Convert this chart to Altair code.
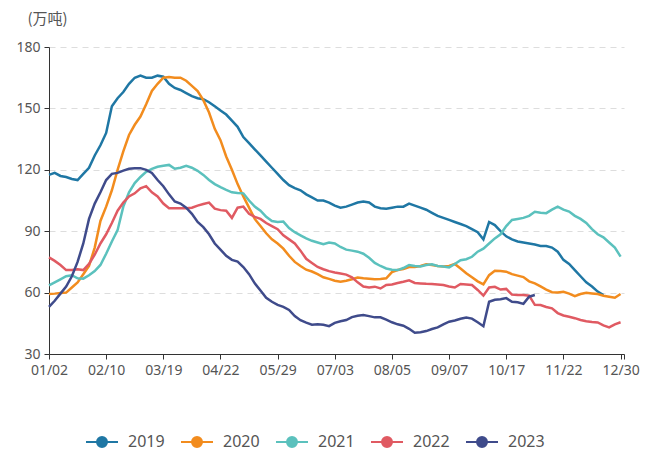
import altair as alt
import pandas as pd

tick_labels = ["01/02", "02/10", "03/19", "04/22", "05/29", "07/03",
               "08/05", "09/07", "10/17", "11/22", "12/30"]
years = ["2019", "2020", "2021", "2022", "2023"]
colors = ["#1f77a4", "#f28c1e", "#5bc1bd", "#e05a62", "#3f4b8b"]

s2019 = [117.5, 118.5, 117, 116.5, 115.5, 115, 118, 121, 127, 132,
         138, 151, 155, 158, 162, 165, 166, 165, 165, 166,
         165.5, 162, 160, 159, 157.5, 156, 155, 154.5, 153, 151,
         149, 147, 144, 141, 136, 133, 130, 127, 124, 121,
         118, 115, 112.5, 111, 110, 108, 106.5, 105, 105, 104,
         102.5, 101.5, 102, 103, 104, 104.5, 104, 102, 101.2, 101,
         101.5, 102, 102, 103.5, 102.5, 101.5, 100.5, 99, 97.5, 96.5,
         95.5, 94.5, 93.5, 92.5, 91, 89.5, 86, 94.5, 93, 90,
         87.5, 86, 85, 84.5, 84, 83.5, 82.8, 82.8, 82, 80,
         76, 74, 71, 68, 65, 63, 60.5, 58.8]

s2020 = [59.3, 59.5, 59.8, 60, 62.5, 65, 69, 73, 82, 95,
         102, 110, 120, 129, 137, 142, 146, 152, 158.5, 162,
         165, 165.3, 165, 165, 163.5, 161, 158.5, 154, 148, 140,
         134.5, 126.5, 120, 113, 107, 101.5, 96, 92.5, 89, 86,
         84, 81.5, 78, 75, 73, 71.2, 70.3, 69, 67.5, 66.7,
         65.8, 65.3, 65.8, 66.5, 67.4, 67, 66.8, 66.5, 66.7, 67,
         70, 71, 71.5, 72.5, 72.5, 73, 73.8, 73.5, 73, 72.7,
         73, 74, 71.8, 69.5, 67.5, 65.5, 64, 68.5, 70.7, 70.5,
         70.2, 69, 68.3, 67.6, 65.5, 64.5, 63, 61.5, 60.2, 60,
         60.4, 59.5, 58.3, 59.3, 59.9, 59.6, 59.3, 58.5, 58, 57.5,
         59.3]

s2021 = [63.5, 65, 66.5, 68, 68.5, 67, 66.8, 68.5, 70.5, 73.5,
         79, 85, 90.5, 102, 109, 113.5, 116.5, 119, 120.5, 121.5,
         122, 122.4, 120.5, 121, 121.9, 121, 119.5, 117.5, 115, 113,
         111.5, 110.2, 109, 108.7, 108.5, 105, 102, 100, 97, 95,
         94.5, 94.7, 91.5, 89.5, 88, 86.5, 85.3, 84.5, 83.6, 84.5,
         84, 82.3, 81, 80.5, 80, 79, 77, 74.5, 73, 71.8,
         71.2, 71, 72, 73.5, 73, 72.8, 73.5, 73.8, 73, 72.7,
         72.3, 74, 75.8, 76.3, 77.5, 80, 81.5, 84, 86.5, 88.5,
         92.5, 95.5, 96, 96.5, 97.5, 99.5, 99, 98.8, 100.5, 102,
         100.5, 99.6, 97.5, 96, 94, 91, 88.5, 87, 84.5, 82,
         77.6]

s2022 = [77.2, 75.5, 73.5, 71, 71, 71.4, 71, 74, 78.5, 84,
         88.5, 94, 100, 104, 107, 108.5, 111, 112, 109, 107,
         103.5, 101.2, 101.2, 101.2, 101.2, 101.5, 102.5, 103.3, 104, 101,
         100.3, 100, 96.5, 101.5, 102, 98.5, 97, 96, 94, 92.5,
         91, 88, 86, 84, 80.5, 76.5, 74.5, 72.5, 71.4, 70.5,
         69.8, 69.3, 68.8, 67.5, 65, 63, 62.5, 62.9, 62, 63.7,
         64, 64.7, 65.3, 66, 64.7, 64.5, 64.3, 64.2, 64, 63.7,
         63, 62.5, 64.2, 64, 63.7, 61.3, 58.5, 62.5, 62.8, 61.5,
         61.8, 59, 58.8, 58.8, 58.5, 54, 53.9, 53, 52.3, 50,
         48.8, 48.2, 47.5, 46.6, 46, 45.6, 45.4, 44, 43, 44.5,
         45.5]

s2023 = [53, 56, 59.5, 62.9, 68, 75, 84, 96, 103.5, 109,
         115, 118, 118.5, 119.6, 120.5, 120.8, 120.8, 120, 118.5, 115,
         112, 108, 104.5, 103.5, 101.5, 98.5, 94.5, 92, 88.5, 84,
         81, 78, 76, 75.2, 72.5, 69, 64.5, 61, 57.5, 55.5,
         54, 53, 51.5, 48.5, 46.5, 45.3, 44.3, 44.5, 44.3, 43.6,
         45.2, 46, 46.6, 48, 48.7, 49, 48.5, 47.9, 47.9, 46.8,
         45.5, 44.5, 43.8, 42.3, 40.4, 40.6, 41.2, 42.2, 43, 44.5,
         45.8, 46.4, 47.2, 47.8, 47.3, 45.5, 43.6, 55.5, 56.5, 56.8,
         57.3, 55.5, 55.3, 54.5, 58, 58.8]

series = [s2019, s2020, s2021, s2022, s2023]

rows = []
for yr, vals in zip(years, series):
    for i, v in enumerate(vals):
        rows.append({"idx": i, "value": v, "year": yr})
df = pd.DataFrame(rows)

arr = "[" + ",".join("'%s'" % t for t in tick_labels) + "]"
label_expr = "datum.value > 100.3 ? '' : " + arr + "[round(datum.value / 10)]"

legend_symbol = ("M-1,0L1,0M0.3125,0A0.3125,0.3125,0,1,1,-0.3125,0"
                 "A0.3125,0.3125,0,1,1,0.3125,0Z")

x_enc = alt.X("idx:Q",
              scale=alt.Scale(domain=[0, 100.6], nice=False, zero=False),
              axis=alt.Axis(values=[0, 10, 20, 30, 40, 50, 60, 70, 80, 90, 100, 100.6],
                            labelExpr=label_expr, title=None, grid=False,
                            tickSize=5, labelPadding=4, labelFontSize=14,
                            labelFont="Noto Sans", labelColor="#555",
                            domainColor="#333", tickColor="#333", labelFlush=False,
                            labelOverlap=False))
y_enc = alt.Y("value:Q",
              scale=alt.Scale(domain=[30, 180], nice=False, zero=False),
              axis=alt.Axis(values=[30, 60, 90, 120, 150, 180], title="(万吨)",
                            titleAngle=0, titleAlign="left", titleBaseline="middle",
                            titleX=-22, titleY=-29, titleFont="Noto Sans CJK SC",
                            titleFontSize=15, titleFontWeight="normal", titleColor="#555",
                            titleLimit=200,
                            grid=True, gridDash=[6, 5], gridColor="#dddddd",
                            tickSize=5, labelPadding=4, labelFontSize=14,
                            labelFont="Noto Sans", labelColor="#555",
                            domainColor="#333", tickColor="#333"))
color_enc = alt.Color("year:N",
                      scale=alt.Scale(domain=years, range=colors),
                      legend=alt.Legend(orient="none", legendX=36, legendY=378,
                                        direction="horizontal", title=None,
                                        symbolType=legend_symbol, symbolSize=1024,
                                        symbolStrokeWidth=2, symbolOpacity=1,
                                        labelOffset=9, labelLimit=100,
                                        columnPadding=12, labelFont="Noto Sans",
                                        labelFontSize=16, labelColor="#555",
                                        padding=0))

base = alt.Chart(df).encode(x=x_enc, y=y_enc, color=color_enc)
lines = base.mark_line(strokeWidth=2.5)
pts = base.mark_point(filled=True, size=0, opacity=1)

chart = alt.layer(lines, pts).properties(
    width=575, height=307,
    autosize=alt.AutoSizeParams(type="pad"),
    padding={"left": 7, "top": 3, "right": 5, "bottom": 5},
).configure_view(stroke=None)

chart.save("out.html", embed_options={"renderer": "svg", "actions": False})
